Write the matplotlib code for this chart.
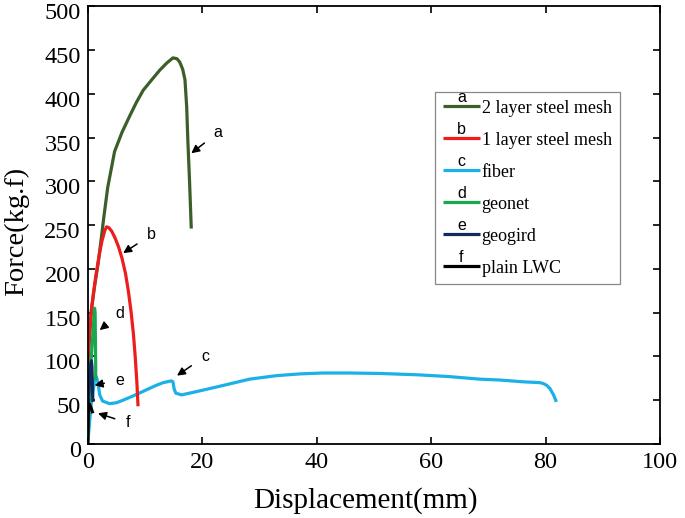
import matplotlib
matplotlib.use("Agg")
import matplotlib.pyplot as plt
from matplotlib.transforms import ScaledTranslation

# a - 2 layer steel mesh
a_x = [0, 0.65, 1.2, 1.8, 2.4, 2.8, 3.5, 4.7, 6.0, 7.3, 8.5, 9.7, 11.2, 12.6, 13.8, 14.9, 15.6, 16.1, 16.6, 17.0, 17.3, 17.5, 17.8, 18.1]
a_y = [90, 153, 180, 205, 236, 258, 293, 334, 356, 374, 390, 404, 416, 427, 435, 441, 440, 436, 428, 416, 385, 347, 300, 246]
# b - 1 layer steel mesh
b_x = [0, 0.3, 0.65, 1.0, 1.5, 2.0, 2.5, 3.0, 3.3, 3.7, 4.2, 4.8, 5.4, 6.0, 6.6, 7.1, 7.6, 8.0, 8.3, 8.6, 8.8]
b_y = [90, 125, 153, 172, 195, 215, 232, 244, 248, 247, 243, 235, 225, 212, 195, 175, 150, 125, 100, 70, 43]
# c - fiber
c_x = [0, 0.6, 1.2, 1.5, 1.8, 2.1, 2.6, 3.8, 5.0, 6.2, 8.0, 10.0, 12.0, 13.2, 14.6, 14.9, 15.1, 15.4, 16.4,
       18.5, 22.5, 28.3, 33.0, 37.1, 41.0, 45.8, 51.0, 57.5, 63.0, 68.5, 72.0, 76.0, 79.0, 79.6, 80.2, 80.8, 81.4, 81.9]
c_y = [0, 45, 72, 77, 70, 56, 49, 46, 47, 50, 55, 61, 67, 70, 72, 71, 63, 58, 56,
       59, 65, 74, 78, 80, 81, 81, 80.5, 79, 77, 74, 73, 71, 70, 69, 67, 63, 56, 48]
# d - geonet
d_x = [0, 0.3, 0.6, 0.9, 1.1, 1.2, 1.3, 1.35, 1.4, 1.4]
d_y = [0, 60, 96, 125, 145, 155, 150, 120, 90, 73]
# e - geogird
e_x = [0, 0.1, 0.3, 0.5, 0.65, 0.75, 0.8, 0.85, 0.9, 0.95]
e_y = [0, 40, 75, 90, 95, 88, 75, 60, 50, 48]
# f - plain LWC
f_x = [0, 0.05, 0.15, 0.35, 0.6, 0.9]
f_y = [0, 25, 46, 45, 41, 35]

labels = ["2 layer steel mesh", "1 layer steel mesh", "fiber", "geonet", "geogird", "plain LWC"]
letters = ["a", "b", "c", "d", "e", "f"]
colors = ["#3b5e2b", "#ee1c1c", "#1cb0e8", "#1aa84f", "#0d2b5c", "#000000"]

# annotation text position and arrow tip
ann_text = [(22.8, 356), (11.1, 239), (20.5, 100), (5.6, 149), (5.6, 73), (7.0, 24)]
ann_tip = [(18.1, 332), (6.2, 218), (15.6, 78), (2.1, 130), (1.2, 67), (1.8, 35)]

plt.rcParams['font.family'] = ['Liberation Serif', 'DejaVu Serif']

fig = plt.figure(figsize=(6.85, 5.18), dpi=100)
ax = fig.add_axes([0.128, 0.143, 0.8355, 0.845])

series = [(a_x, a_y), (b_x, b_y), (c_x, c_y), (d_x, d_y), (e_x, e_y), (f_x, f_y)]
handles = [None] * 6
for i in [0, 2, 1, 3, 4, 5]:
    x, y = series[i]
    ln, = ax.plot(x, y, color=colors[i], lw=2.3, label=labels[i], solid_capstyle='butt')
    handles[i] = ln

for letter, (tx, ty), (px, py) in zip(letters, ann_text, ann_tip):
    ax.annotate(letter, xy=(px, py), xytext=(tx, ty), fontsize=11.5, family='Liberation Sans',
                ha='center', va='center',
                arrowprops=dict(arrowstyle='-|>', color='k', lw=1.1, shrinkA=6, shrinkB=0,
                                mutation_scale=12))

ax.set_xlim(0, 100)
ax.set_ylim(0, 500)
ax.set_xticks(range(0, 101, 20))
ax.set_yticks(range(0, 501, 50))
ax.tick_params(direction='in', top=True, right=True, length=5, width=1.2, labelsize=17.5)
ax.tick_params(axis='x', pad=6)
ax.tick_params(axis='y', pad=5)
for s in ax.spines.values():
    s.set_linewidth(1.3)
# y tick labels sit a little below their ticks, as in the original
shift = ScaledTranslation(0, -0.05, fig.dpi_scale_trans)
for t in ax.yaxis.get_major_ticks():
    t.label1.set_transform(t.label1.get_transform() + shift)

ax.set_xlabel("Displacement(mm)", fontsize=21, labelpad=10)
ax.xaxis.label.set_x(0.486)
ax.set_ylabel("Force(kg.f)", fontsize=20.5, labelpad=11)
ax.yaxis.label.set_y(0.485)

leg = ax.legend(handles=handles, loc='upper left', bbox_to_anchor=(0.607, 0.804), borderaxespad=0,
                fontsize=13, handlelength=2.05, handletextpad=0.1, labelspacing=0.83,
                fancybox=False, edgecolor='#888888', framealpha=1, borderpad=0.43)
leg.get_frame().set_linewidth(0.9)

# small letters above the legend line samples
fig.canvas.draw()
inv = ax.transAxes.inverted()
for ln, letter in zip(leg.legend_handles, letters):
    bb = ln.get_window_extent(fig.canvas.get_renderer())
    cx, cy = inv.transform(((bb.x0 + bb.x1) / 2, (bb.y0 + bb.y1) / 2 + 1))
    ax.text(cx, cy, letter, transform=ax.transAxes, ha='center', va='bottom',
            fontsize=11.5, family='Liberation Sans', zorder=10)

fig.savefig("out.png", dpi=100)
